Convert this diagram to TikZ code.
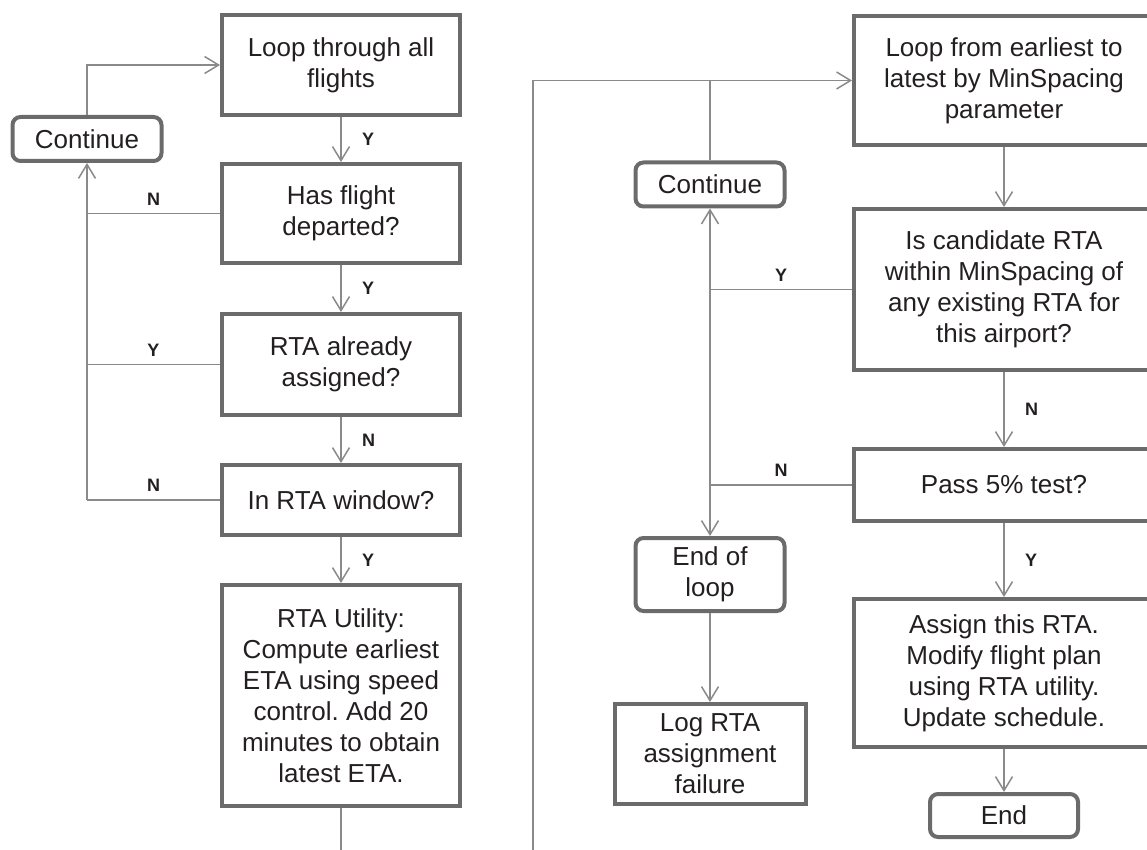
\documentclass[tikz,border=0pt]{standalone}
\usepackage{fontspec}
\setmainfont{Liberation Sans}
\usetikzlibrary{positioning,arrows.meta,calc}
\definecolor{boxgray}{HTML}{6B6B6B}
\definecolor{linegray}{HTML}{8A8A8A}
\definecolor{txt}{HTML}{231F20}
\frenchspacing
\tikzset{
	box/.style={rectangle, draw=boxgray, line width=4pt, minimum width=238pt, align=center, text=txt, font=\fontsize{26}{31}\selectfont, inner sep=2pt},
	widebox/.style={box, minimum width=300pt},
	term/.style={box, rounded corners=8pt, minimum width=149pt, minimum height=44pt},
	connect/.style={-{Straight Barb[length=14pt,width=17pt]}, draw=linegray, line width=1.5pt},
	wire/.style={draw=linegray, line width=1.5pt},
	lbl/.style={font=\fontsize{18}{20}\selectfont\bfseries, text=txt}
}

\begin{document}
\begin{tikzpicture}[x=1pt, y=-1pt]
\useasboundingbox (0,0) rectangle (1147,850);
% left column
\node[box, minimum height=100pt] (Loop) at (341,65) {Loop through all\\flights};
\node[box, minimum height=99pt, below=45pt of Loop] (Dep) {Has flight\\departed?};
\node[box, minimum height=101pt, below=47pt of Dep] (Asg) {RTA already\\assigned?};
\node[box, minimum height=70pt, below=46pt of Asg] (Win) {In RTA window?};
\node[box, minimum height=221pt, below=46pt of Win] (Util) {RTA Utility:\\Compute earliest\\ETA using speed\\control. Add 20\\minutes to obtain\\latest ETA.};
\node[term] (ContL) at (87,139) {Continue};
\coordinate (outL) at (341,850);
% right column
\node[widebox, minimum height=129pt] (Scan) at (1004,80.5) {Loop from earliest to\\latest by MinSpacing\\parameter};
\node[widebox, minimum height=161pt, below=60pt of Scan] (Cand) {Is candidate RTA\\within MinSpacing of\\any existing RTA for\\this airport?};
\node[widebox, minimum height=72pt, below=75pt of Cand] (Pass) {Pass 5\% test?};
\node[widebox, minimum height=148pt, below=74pt of Pass] (Assign) {Assign this RTA.\\Modify flight plan\\using RTA utility.\\Update schedule.};
\node[term, minimum width=148pt, minimum height=43pt, below=43pt of Assign] (Fin) {End};
\node[term] (ContR) at (710,184.5) {Continue};
\node[term, minimum height=73pt] (EndLoop) at (710,574.5) {End of\\loop};
\node[box, minimum width=191pt, minimum height=100pt, below=89pt of EndLoop] (LogFail) {Log RTA\\assignment\\failure};
\coordinate (inR) at (533,850);

\draw[connect] (ContL) |- (Loop);
\draw[connect] (Loop) -- node[lbl, right=17pt] {Y} (Dep);
\draw[connect] (Dep) -- node[lbl, right=17pt] {Y} (Asg);
\draw[connect] (Asg) -- node[lbl, right=17pt] {N} (Win);
\draw[connect] (Win) -- node[lbl, right=17pt] {Y} (Util);
\draw[wire] (Dep.west) -- node[lbl, above=4pt] {N} (Dep.west -| ContL);
\draw[wire] (Asg.west) -- node[lbl, above=4pt] {Y} (Asg.west -| ContL);
\draw[wire] (Win.west) -- node[lbl, above=4pt] {N} (Win.west -| ContL);
\draw[connect] (Win.west -| ContL) -- (ContL);
\draw[wire] (Util) -- (outL);

\draw[connect] (inR) |- (Scan);
\draw[wire] (ContR) -- (ContR |- Scan.west);
\draw[connect] (Scan) -- (Cand);
\draw[wire] (Cand.west) -- node[lbl, above=4pt] {Y} (Cand.west -| ContR);
\draw[connect] (Cand.west -| ContR) -- (ContR);
\draw[connect] (Cand.west -| ContR) -- (EndLoop);
\draw[connect] (Cand) -- node[lbl, right=17pt] {N} (Pass);
\draw[wire] (Pass.west) -- node[lbl, above=4pt] {N} (Pass.west -| ContR);
\draw[connect] (Pass) -- node[lbl, right=17pt] {Y} (Assign);
\draw[connect] (Assign) -- (Fin);
\draw[connect] (EndLoop) -- (LogFail);
\end{tikzpicture}
\end{document}
